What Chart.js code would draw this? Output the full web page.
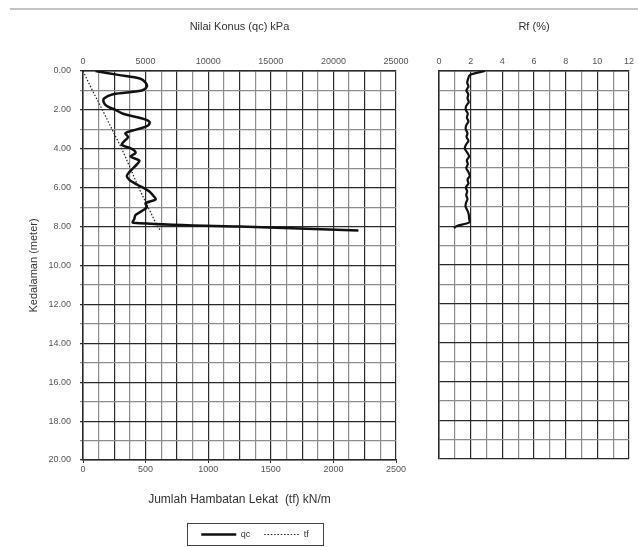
<!DOCTYPE html>
<html>
<head>
<meta charset="utf-8">
<script src="https://cdn.jsdelivr.net/npm/chart.js@4.4.1/dist/chart.umd.min.js"></script>
<style>
  body { margin: 0; background: #fff; }
  #wrap { position: relative; width: 638px; height: 547px; overflow: hidden; }
  #left { position: absolute; left: 0; top: 0; }
  #right { position: absolute; left: 420px; top: 0; }
  #rule { position: absolute; left: 10px; top: 8px; width: 628px; border-top: 2px solid #c4c4c4; }
</style>
</head>
<body>
<div id="wrap">
  <div id="rule"></div>
  <canvas id="left" width="510" height="547"></canvas>
  <canvas id="right" width="218" height="547"></canvas>
</div>
<script>
// sondir data (depth in meter)
var qcDepth = [0, 0.2, 0.4, 0.6, 0.8, 1.0, 1.2, 1.4, 1.6, 1.8, 2.0, 2.2, 2.4, 2.6, 2.8, 3.0, 3.2, 3.4, 3.6, 3.8,
               4.0, 4.2, 4.4, 4.6, 4.8, 5.0, 5.2, 5.4, 5.6, 5.8, 6.0, 6.2, 6.4, 6.6, 6.8, 7.0, 7.2, 7.4, 7.6, 7.8, 8.0, 8.2];
var qcValues = [1000, 2800, 4600, 5000, 5100, 4700, 2400, 1700, 1650, 1900, 2600, 3200, 4500, 5300, 5200, 4300, 3400, 3600, 3300, 3100,
                3900, 4200, 3800, 4500, 4300, 4000, 3700, 3500, 3700, 4200, 4800, 5300, 5600, 5800, 5000, 5100, 4700, 4200, 4100, 4000, 12500, 22000];

var tfDepth = [0, 1, 2, 3, 4, 5, 6, 7, 8, 8.2];
var tfValues = [0, 75, 155, 232, 310, 378, 445, 520, 595, 620];

var rfDepth = [0, 0.2, 0.4, 0.6, 0.8, 1.0, 1.2, 1.4, 1.6, 1.8, 2.0, 2.2, 2.4, 2.6, 2.8, 3.0, 3.2, 3.4, 3.6, 3.8,
               4.0, 4.2, 4.4, 4.6, 4.8, 5.0, 5.2, 5.4, 5.6, 5.8, 6.0, 6.2, 6.4, 6.6, 6.8, 7.0, 7.2, 7.4, 7.6, 7.8, 8.0, 8.1];
var rfValues = [2.9, 1.95, 1.84, 1.78, 1.86, 1.73, 1.85, 1.8, 1.88, 1.72, 1.69, 1.82, 1.76, 1.86, 1.72, 1.69, 1.8, 1.74, 1.86, 1.7,
                1.63, 1.78, 1.9, 1.76, 1.82, 1.72, 1.85, 1.94, 1.8, 1.86, 1.69, 1.78, 1.72, 1.8, 1.7, 1.68, 1.8, 1.88, 1.9, 1.92, 1.1, 0.95];

// tick labels
var depthTicks = [0, 2, 4, 6, 8, 10, 12, 14, 16, 18, 20];
var qcTicks = [0, 5000, 10000, 15000, 20000, 25000];
var tfTicks = [0, 500, 1000, 1500, 2000, 2500];
var rfTicks = [0, 2, 4, 6, 8, 10, 12];

function pairs(xs, ys) {
    return xs.map(function (v, i) { return { x: v, y: ys[i] }; });
}

var dark = '#2a2a2a';
var light = '#8c8c8c';
var tickFont = { family: 'Liberation Sans, Arial, sans-serif', size: 9 };
var titleFont = { family: 'Liberation Sans, Arial, sans-serif', size: 11 };

// box round the legend
var legendFrame = {
    id: 'legendFrame',
    afterDraw: function (chart) {
        var hb = chart.legend && chart.legend.legendHitBoxes;
        if (!hb || !hb.length) return;
        var first = hb[0], last = hb[hb.length - 1];
        var ctx = chart.ctx;
        ctx.save();
        ctx.strokeStyle = '#444';
        ctx.lineWidth = 1;
        ctx.strokeRect(Math.round(first.left) - 13.5, Math.round(first.top) - 6.5, Math.round(last.left + last.width - first.left) + 28, Math.round(first.height) + 13);
        ctx.restore();
    }
};

Chart.defaults.font.family = 'Liberation Sans, Arial, sans-serif';
Chart.defaults.color = '#555';

// qc / tf chart
new Chart(document.getElementById('left').getContext('2d'), {
    type: 'scatter',
    data: {
        datasets: [{
            label: 'qc',
            data: pairs(qcValues, qcDepth),
            xAxisID: 'xq',
            yAxisID: 'y',
            showLine: true,
            borderColor: '#111',
            borderWidth: 2.5,
            pointRadius: 0,
            tension: 0.35
        }, {
            label: 'tf',
            data: pairs(tfValues, tfDepth),
            xAxisID: 'xt',
            yAxisID: 'y',
            showLine: true,
            borderColor: '#222',
            borderWidth: 1.2,
            borderDash: [1.5, 1.8],
            pointRadius: 0
        }]
    },
    options: {
        responsive: false,
        animation: false,
        layout: { padding: { left: 0, right: 0, top: 0, bottom: -2 } },
        plugins: {
            tooltip: { enabled: false },
            legend: {
                position: 'bottom',
                labels: {
                    usePointStyle: true,
                    pointStyle: 'line',
                    pointStyleWidth: 35,
                    color: '#333',
                    padding: 14,
                    font: { size: 9 },
                    generateLabels: function (chart) {
                        var items = Chart.defaults.plugins.legend.labels.generateLabels(chart);
                        items.forEach(function (it) {
                            var ds = chart.data.datasets[it.datasetIndex];
                            it.lineDash = ds.borderDash || [];
                            it.lineWidth = ds.borderWidth;
                            it.strokeStyle = ds.borderColor;
                        });
                        return items;
                    }
                }
            }
        },
        scales: {
            xq: {
                type: 'linear',
                position: 'top',
                min: 0,
                max: 25000,
                afterFit: function (s) { s.height = 71; },
                title: { display: true, text: 'Nilai Konus (qc) kPa', color: '#333', font: titleFont, padding: { top: 20 } },
                ticks: {
                    stepSize: 1250,
                    autoSkip: false,
                    maxRotation: 0,
                    padding: 4,
                    font: tickFont,
                    callback: function (v) { return qcTicks.indexOf(v) >= 0 ? String(v) : ''; }
                },
                grid: {
                    drawTicks: false,
                    lineWidth: 1.2,
                    color: function (c) { return c.tick && c.tick.value % 2500 === 0 ? dark : light; }
                },
                border: { color: dark, width: 1.5 }
            },
            xt: {
                type: 'linear',
                position: 'bottom',
                min: 0,
                max: 2500,
                afterFit: function (s) { s.height = 56; },
                title: { display: true, text: 'Jumlah Hambatan Lekat  (tf) kN/m', color: '#333', font: { size: 12 }, padding: { bottom: 9 } },
                ticks: {
                    stepSize: 500,
                    maxRotation: 0,
                    padding: 1,
                    font: tickFont,
                    callback: function (v) { return tfTicks.indexOf(v) >= 0 ? String(v) : ''; }
                },
                grid: { drawOnChartArea: false, tickLength: 3, color: dark },
                border: { color: dark, width: 1.5 }
            },
            y: {
                type: 'linear',
                reverse: true,
                min: 0,
                max: 20,
                afterFit: function (s) { s.width = 83; },
                title: { display: true, text: 'Kedalaman (meter)', color: '#333', font: titleFont, padding: { top: 27 } },
                ticks: {
                    stepSize: 1,
                    autoSkip: false,
                    padding: 9,
                    font: tickFont,
                    callback: function (v) { return depthTicks.indexOf(v) >= 0 ? v.toFixed(2) : ''; }
                },
                grid: {
                    tickLength: 3,
                    lineWidth: 1.2,
                    color: function (c) { return c.tick && c.tick.value % 2 === 0 ? dark : light; }
                },
                border: { color: dark, width: 1.5 }
            },
            // empty space on the right so the legend centres like the original
            spacer: {
                type: 'linear',
                position: 'right',
                afterFit: function (s) { s.width = 114; },
                ticks: { display: false },
                grid: { display: false },
                border: { display: false }
            }
        }
    },
    plugins: [legendFrame]
});

// Rf chart
new Chart(document.getElementById('right').getContext('2d'), {
    type: 'scatter',
    data: {
        datasets: [{
            label: 'Rf',
            data: pairs(rfValues, rfDepth),
            showLine: true,
            borderColor: '#111',
            borderWidth: 2.2,
            pointRadius: 0,
            tension: 0.3
        }]
    },
    options: {
        responsive: false,
        animation: false,
        layout: { padding: { left: 0, right: 7, top: 0, bottom: 88 } },
        plugins: { legend: { display: false }, tooltip: { enabled: false } },
        scales: {
            x: {
                type: 'linear',
                position: 'top',
                min: 0,
                max: 12,
                afterFit: function (s) { s.height = 71; },
                title: { display: true, text: 'Rf (%)', color: '#333', font: titleFont, padding: { top: 20 } },
                ticks: {
                    stepSize: 1,
                    autoSkip: false,
                    maxRotation: 0,
                    padding: 4,
                    font: tickFont,
                    callback: function (v) { return rfTicks.indexOf(v) >= 0 ? String(v) : ''; }
                },
                grid: {
                    drawTicks: false,
                    lineWidth: 1.2,
                    color: function (c) { return c.tick && c.tick.value % 2 === 0 ? dark : light; }
                },
                border: { color: dark, width: 1.5 }
            },
            y: {
                type: 'linear',
                reverse: true,
                min: 0,
                max: 20,
                afterFit: function (s) { s.width = 19; },
                ticks: { stepSize: 1, display: false },
                grid: {
                    drawTicks: false,
                    lineWidth: 1.2,
                    color: function (c) { return c.tick && c.tick.value % 2 === 0 ? dark : light; }
                },
                border: { color: dark, width: 1.5 }
            }
        }
    }
});
</script>
</body>
</html>
